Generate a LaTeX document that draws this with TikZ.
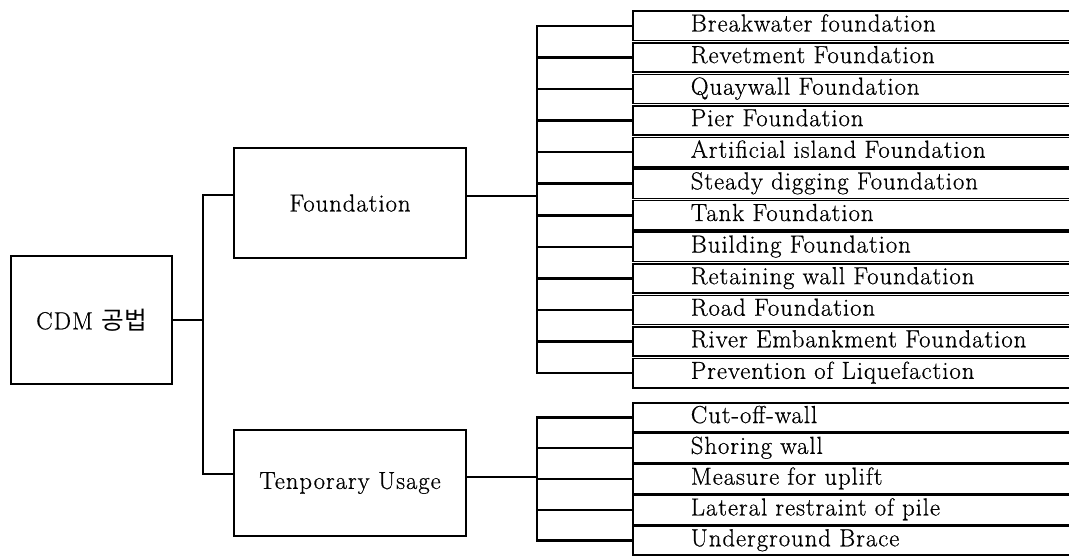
\documentclass[tikz,border=0pt]{standalone}
\usepackage{fontspec}
\setmainfont{Latin Modern Roman}[LetterSpace=4,FakeBold=0.6]
\newfontfamily\kor{Noto Sans CJK KR}
\usetikzlibrary{calc}

\begin{document}
\begin{tikzpicture}[x=0.75pt,y=-0.75pt]

\tikzset{block/.style = {shape=rectangle,draw,line width=1.9pt,font=\fontsize{18.5}{21}\selectfont}}
\tikzset{item/.style = {shape=rectangle,draw,line width=1.2pt,anchor=west,text width=294pt,inner xsep=43.5pt,inner ysep=0pt,minimum height=22pt,text height=12.5pt,text depth=4pt,align=left,font=\fontsize{18.5}{21}\selectfont}}
\tikzset{edge/.style = {line width=1.9pt}}

\useasboundingbox (0,0) rectangle (1069,558);
\clip (0,0) rectangle (1069,558);

%blocks
\node[block, minimum width=120.75pt, minimum height=96pt] (cdm) at (91.5,320) {CDM {\kor 공법}};
\node[block, minimum width=174pt, minimum height=82.5pt] (fnd) at (350,203) {Foundation};
\node[block, minimum width=174pt, minimum height=79.5pt] (tmp) at (350,483) {Tenporary Usage};

%foundation items
\node[item] (a1) at (632,25.8) {Breakwater foundation};
\node[item] (a2) at (632,57.4) {Revetment Foundation};
\node[item] (a3) at (632,89.0) {Quaywall Foundation};
\node[item] (a4) at (632,120.5) {Pier Foundation};
\node[item] (a5) at (632,152.1) {Artificial island Foundation};
\node[item] (a6) at (632,183.7) {Steady digging Foundation};
\node[item] (a7) at (632,215.3) {Tank Foundation};
\node[item] (a8) at (632,246.9) {Building Foundation};
\node[item] (a9) at (632,278.5) {Retaining wall Foundation};
\node[item] (a10) at (632,310.0) {Road Foundation};
\node[item] (a11) at (632,341.6) {River Embankment Foundation};
\node[item] (a12) at (632,373.2) {Prevention of Liquefaction};

%temporary items
\node[item] (c1) at (632,417.4) {Cut-off-wall};
\node[item] (c2) at (632,448.2) {Shoring wall};
\node[item] (c3) at (632,479.0) {Measure for uplift};
\node[item] (c4) at (632,509.8) {Lateral restraint of pile};
\node[item] (c5) at (632,540.6) {Underground Brace};

%joints
\coordinate (b1) at (203,195);
\coordinate (b2) at (203,474);
\coordinate (j1) at (537,196);
\coordinate (j2) at (537,477);

\draw[edge] (cdm.east) -- (cdm.east -| b1);
\draw[edge] (fnd.west |- b1) -- (b1) -- (b2) -- (tmp.west |- b2);

\draw[edge] (fnd.east |- j1) -- (j1);
\draw[edge] (a1.west) -| (j1 |- a12.west) -- (a12.west);
\draw[edge] (a2.west) -- (a2.west -| j1);
\draw[edge] (a3.west) -- (a3.west -| j1);
\draw[edge] (a4.west) -- (a4.west -| j1);
\draw[edge] (a5.west) -- (a5.west -| j1);
\draw[edge] (a6.west) -- (a6.west -| j1);
\draw[edge] (a7.west) -- (a7.west -| j1);
\draw[edge] (a8.west) -- (a8.west -| j1);
\draw[edge] (a9.west) -- (a9.west -| j1);
\draw[edge] (a10.west) -- (a10.west -| j1);
\draw[edge] (a11.west) -- (a11.west -| j1);

\draw[edge] (tmp.east |- j2) -- (j2);
\draw[edge] (c1.west) -| (j2 |- c5.west) -- (c5.west);
\draw[edge] (c2.west) -- (c2.west -| j2);
\draw[edge] (c3.west) -- (c3.west -| j2);
\draw[edge] (c4.west) -- (c4.west -| j2);

\end{tikzpicture}
\end{document}
